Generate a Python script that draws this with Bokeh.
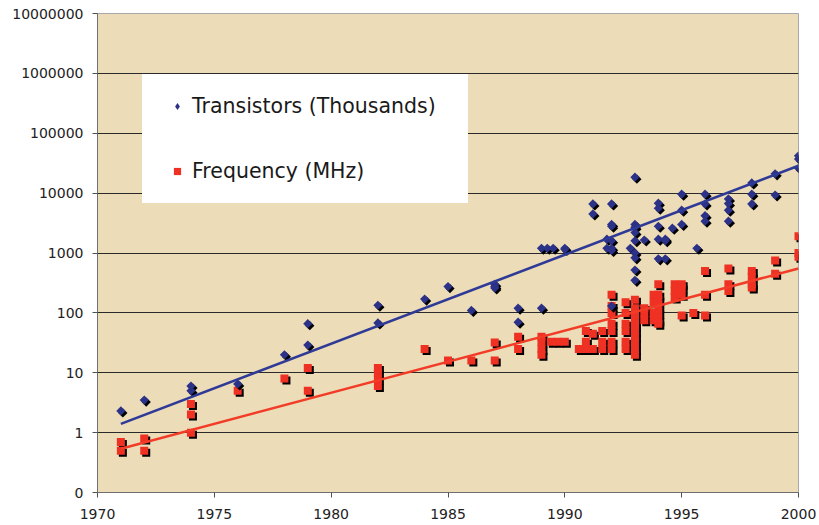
import numpy as np
from bokeh.plotting import figure
from bokeh.models import Range1d, FixedTicker, Legend, LegendItem
from bokeh.embed import file_html
from bokeh.resources import INLINE

# ---------------- data ----------------
trans_years = [1971, 1972, 1974, 1974, 1976, 1978, 1979, 1979, 1982, 1982,
               1984, 1985, 1986, 1987, 1987, 1987, 1988, 1988,
               1989, 1989, 1989.25, 1989.5, 1990, 1990,
               1991.2, 1991.2, 1991.8, 1991.8,
               1992, 1992, 1992, 1992, 1992, 1992, 1992,
               1992.8, 1993, 1993, 1993, 1993, 1993, 1993, 1993, 1993, 1993,
               1993.4, 1994, 1994, 1994, 1994, 1994, 1994.3, 1994.3, 1994.3, 1994.6,
               1995, 1995, 1995, 1995.65,
               1996, 1996, 1996, 1996, 1997, 1997, 1997, 1997,
               1998, 1998, 1998, 1999, 1999, 2000, 2000, 2000]
trans_values = [2.3, 3.5, 6, 5, 6.5, 20, 66, 29, 134, 68,
                170, 275, 110, 300, 275, 260, 120, 70,
                120, 1200, 1200, 1200, 1200, 1150,
                6600, 4500, 1700, 1200,
                6600, 3000, 2800, 1600, 1200, 1100, 130,
                1200, 18500, 3000, 2700, 2200, 1600, 1000, 830, 520, 350,
                1650, 6800, 5600, 2800, 1700, 800, 1700, 1600, 800, 2600,
                9600, 5200, 3000, 1200,
                9600, 6600, 4200, 3400, 8000, 6700, 5200, 3400,
                14800, 9600, 6600, 21000, 9300, 42000, 37000, 26000]

freq_years = [1971, 1971, 1972, 1972, 1974, 1974, 1974, 1976, 1978, 1979, 1979,
              1982, 1982, 1982, 1982, 1984, 1985, 1986, 1987, 1987, 1988, 1988,
              1989, 1989, 1989, 1989, 1989.4, 1989.7, 1990.0, 1990.6,
              1990.9, 1990.9, 1990.9, 1991.2, 1991.2, 1991.6, 1991.6, 1991.6,
              1992, 1992, 1992, 1992, 1992, 1992, 1992,
              1992.6, 1992.6, 1992.6, 1992.6, 1992.6, 1992.6,
              1993, 1993, 1993, 1993, 1993, 1993, 1993, 1993, 1993, 1993, 1993, 1993,
              1993.4, 1993.4, 1993.4, 1993.8, 1993.8, 1993.8, 1993.8,
              1994, 1994, 1994, 1994, 1994, 1994, 1994,
              1994.7, 1994.7, 1994.7, 1995, 1995, 1995, 1995, 1995.5,
              1996, 1996, 1996, 1997, 1997, 1997, 1998, 1998, 1998, 1998,
              1999, 1999, 2000, 2000, 2000]
freq_values = [0.7, 0.5, 0.8, 0.5, 3, 2, 1, 5, 8, 12, 5,
               12, 10, 8, 6, 25, 16, 16, 32, 16, 40, 25,
               40, 33, 25, 20, 33, 33, 33, 25,
               50, 33, 25, 45, 25, 50, 33, 25,
               200, 130, 100, 66, 50, 33, 25,
               150, 100, 66, 50, 33, 25,
               166, 120, 100, 90, 75, 66, 60, 50, 40, 33, 25, 20,
               120, 100, 75, 200, 150, 100, 75,
               300, 200, 166, 133, 100, 75, 66,
               300, 233, 180, 300, 266, 200, 90, 100,
               500, 200, 90, 550, 300, 233, 500, 400, 300, 266,
               750, 450, 1900, 1000, 866]

trend_years = [1971, 2000]
trend_transistors = [1.4, 28700]
trend_frequency = [0.54, 550]

x_ticks = [1970, 1975, 1980, 1985, 1990, 1995, 2000]
x_tick_labels = ["1970", "1975", "1980", "1985", "1990", "1995", "2000"]
y_ticks = [0.1, 1, 10, 100, 1000, 10000, 100000, 1000000, 10000000]
y_tick_labels = ["0", "1", "10", "100", "1000", "10000", "100000", "1000000", "10000000"]

# ---------------- layout ----------------
W, H = 819, 525
BL, BR, BT, BB = 97, 21, 13, 33
frame_w = W - BL - BR
frame_h = H - BT - BB

FONT = "DejaVu Sans"
BLUE = "#2b3288"
BLUE_LINE = "#2f3a96"
RED = "#ef3124"
RED_LINE = "#f23c28"

p = figure(width=W, height=H, output_backend="svg", toolbar_location=None,
           x_range=Range1d(1970, 2000), y_range=Range1d(0.1, 1e7),
           y_axis_type="log",
           min_border_left=BL, min_border_right=BR, min_border_top=BT, min_border_bottom=BB)

p.border_fill_color = "white"
p.background_fill_color = "#ecdcb8"
p.outline_line_color = "#a8a8a8"
p.outline_line_width = 1

# shadows: 2px right, 2px down (converted via the scales)
dx = 2.0 * 30 / frame_w
dy = 10 ** (-2.0 * 8 / frame_h)
tx = np.array(trans_years, dtype=float)
ty = np.array(trans_values, dtype=float)
fx = np.array(freq_years, dtype=float)
fy = np.array(freq_values, dtype=float)

p.scatter(fx + dx, fy * dy, marker="square", size=8, fill_color="black",
          line_color=None)
r_f = p.scatter(fx, fy, marker="square", size=8, fill_color=RED, line_color=None)

p.scatter(tx + dx, ty * dy, marker="square", angle=np.pi / 4, size=6.5,
          fill_color="black", line_color=None)
# legend proxy (diamond), hidden beneath the first transistor marker
r_t_leg = p.scatter(tx[:1], ty[:1], marker="diamond", size=8, fill_color=BLUE,
                    line_color=None)
p.scatter(tx, ty, marker="square", angle=np.pi / 4, size=6.5,
          fill_color=BLUE, line_color=None)

p.line(trend_years, trend_transistors, line_color=BLUE_LINE, line_width=2.6)
p.line(trend_years, trend_frequency, line_color=RED_LINE, line_width=2.6)

# axes
p.xaxis.ticker = FixedTicker(ticks=x_ticks)
p.xaxis.major_label_overrides = dict(zip(x_ticks, x_tick_labels))
p.yaxis.ticker = FixedTicker(ticks=y_ticks)
p.yaxis.major_label_overrides = dict(zip(y_ticks, y_tick_labels))

for ax in (p.xaxis[0], p.yaxis[0]):
    ax.major_label_text_font = FONT
    ax.major_label_text_font_size = "14px"
    ax.major_label_text_color = "#222222"
    ax.axis_line_color = "#707070"
    ax.axis_line_width = 1
    ax.major_tick_line_color = "#505050"
    ax.major_tick_in = 0
    ax.major_tick_out = 5
    ax.minor_tick_line_color = None
p.yaxis.major_label_standoff = 9
p.xaxis.major_label_standoff = 11

p.xgrid.grid_line_color = None
p.ygrid.grid_line_color = "#2a2a2a"
p.ygrid.grid_line_width = 1

legend = Legend(items=[LegendItem(label="Transistors (Thousands)", renderers=[r_t_leg]),
                       LegendItem(label="Frequency (MHz)", renderers=[r_f])],
                location=(45, 289), padding=20, spacing=41, label_height=24,
                label_width=256, glyph_height=18, glyph_width=30,
                label_standoff=0, margin=0,
                background_fill_color="white", background_fill_alpha=1.0,
                border_line_alpha=0,
                label_text_font=FONT, label_text_font_size="20.5px",
                label_text_color="#1a1a1a")
p.add_layout(legend, "center")

open("out.html", "w").write(file_html(p, INLINE))
